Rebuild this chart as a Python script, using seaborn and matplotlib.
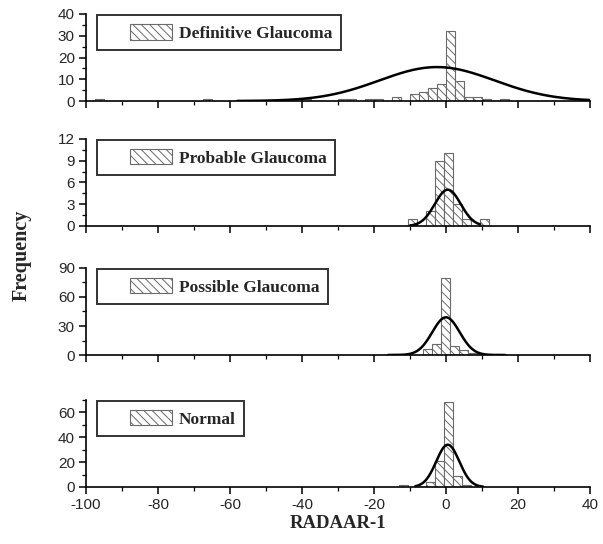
import numpy as np
import matplotlib
matplotlib.use("Agg")
import matplotlib.pyplot as plt
import seaborn as sns
from matplotlib.patches import Patch, Rectangle
from matplotlib.legend_handler import HandlerPatch
from matplotlib.ticker import AutoMinorLocator, MultipleLocator

# Histogram data: left bin edges (bin width 2.5) and counts per group
titles = ["Definitive Glaucoma", "Probable Glaucoma", "Possible Glaucoma", "Normal"]

def_left = [-97.5, -67.5, -40, -30, -27.5, -22.5, -20, -15, -10, -7.5, -5, -2.5, 0, 2.5, 5, 7.5, 10, 15]
def_count = [1, 1, 1, 1, 1, 1, 1, 2, 3, 4, 6, 8, 32, 9, 2, 2, 1, 1]

prob_left = [-10.5, -5.5, -3, -0.5, 2, 4.5, 9.5]
prob_count = [1, 2, 9, 10, 3, 1, 1]

poss_left = [-16.25, -13.75, -6.25, -3.75, -1.25, 1.25, 3.75, 6.25, 13.75]
poss_count = [1, 1, 6, 11, 80, 9, 5, 2, 1]

norm_left = [-13, -5.5, -3, -0.5, 2, 4.5]
norm_count = [2, 4, 21, 68, 9, 2]

# Fitted normal curves: mean, sd, peak height, x range
curve_mean = [-2.5, 0.5, 0.0, 0.5]
curve_sd = [16.0, 3.6, 3.8, 3.2]
curve_peak = [15.6, 5.0, 39.0, 34.0]
curve_range = [(-58, 40), (-10, 9.5), (-16, 16.5), (-8.5, 10.3)]

y_max = [40, 12, 90, 70]
y_step = [10, 3, 30, 20]

BIN_W = 2.5
lefts = [def_left, prob_left, poss_left, norm_left]
counts = [def_count, prob_count, poss_count, norm_count]

sns.set_style("ticks")
plt.rcParams["font.family"] = ["Liberation Sans", "DejaVu Sans"]
plt.rcParams["hatch.linewidth"] = 0.7
plt.rcParams["axes.unicode_minus"] = False

EDGE = "#6a6a6a"
HATCH = "\\\\\\\\"
serif_bold = dict(family=["Liberation Serif", "DejaVu Serif"], weight="bold")


def offset_patch(legend, orig_handle, xdescent, ydescent, width, height, fontsize):
    # legend swatch drawn in the right part of the handle box
    return Rectangle((-xdescent + width * 0.36, -ydescent), width * 0.64, height)


fig = plt.figure(figsize=(6.03, 5.44), dpi=100)
bottoms = [0.8143, 0.5846, 0.3474, 0.1048]
left, width, height = 0.1426, 0.8358, 0.160

for i in range(4):
    ax = fig.add_axes([left, bottoms[i], width, height])
    lo = lefts[i]
    centers = np.array(lo) + BIN_W / 2
    sns.histplot(x=centers, weights=counts[i], binwidth=BIN_W,
                 binrange=(lo[0], lo[-1] + BIN_W), ax=ax,
                 color="white", edgecolor=EDGE, hatch=HATCH,
                 linewidth=0.8, alpha=1)
    # remove zero-height bars
    for p in ax.patches:
        if p.get_height() == 0:
            p.set_visible(False)

    a, b = curve_range[i]
    xs = np.linspace(a, b, 300)
    ys = curve_peak[i] * np.exp(-(xs - curve_mean[i]) ** 2 / (2 * curve_sd[i] ** 2))
    sns.lineplot(x=xs, y=ys, color="black", linewidth=1.8, ax=ax)

    ax.set_xlim(-100, 40)
    ax.set_ylim(0, y_max[i])
    ax.xaxis.set_major_locator(MultipleLocator(20))
    ax.xaxis.set_minor_locator(MultipleLocator(10))
    ax.yaxis.set_major_locator(MultipleLocator(y_step[i]))
    ax.yaxis.set_minor_locator(AutoMinorLocator(2))
    ax.set_xlabel("")
    ax.set_ylabel("")
    sns.despine(ax=ax)
    for s in ["left", "bottom"]:
        ax.spines[s].set_linewidth(1.2)
        ax.spines[s].set_color("black")
    ax.tick_params(which="major", length=5, width=1.1, color="black",
                   labelsize=11, pad=3)
    ax.tick_params(which="minor", length=3, width=0.9, color="black")
    if i < 3:
        ax.tick_params(axis="x", labelbottom=False)

    handle = Patch(facecolor="white", edgecolor=EDGE, hatch=HATCH, linewidth=0.8)
    leg = ax.legend(handles=[handle], labels=[titles[i]], loc="upper left",
                    bbox_to_anchor=(0.022, 0.985), borderaxespad=0,
                    prop=dict(family="Liberation Serif", weight="bold", size=12.5),
                    frameon=True, fancybox=False, handlelength=3.8,
                    handleheight=1.0, handletextpad=0.4, borderpad=0.5,
                    handler_map={Patch: HandlerPatch(patch_func=offset_patch)})
    leg.get_frame().set_edgecolor("black")
    leg.get_frame().set_linewidth(1.4)

fig.text(0.036, 0.531, "Frequency", rotation=90, ha="center", va="center",
         fontsize=14.5, **serif_bold)
fig.text(0.56, 0.0386, "RADAAR-1", ha="center", va="center",
         fontsize=13.5, **serif_bold)

fig.savefig("out.png", dpi=100)
